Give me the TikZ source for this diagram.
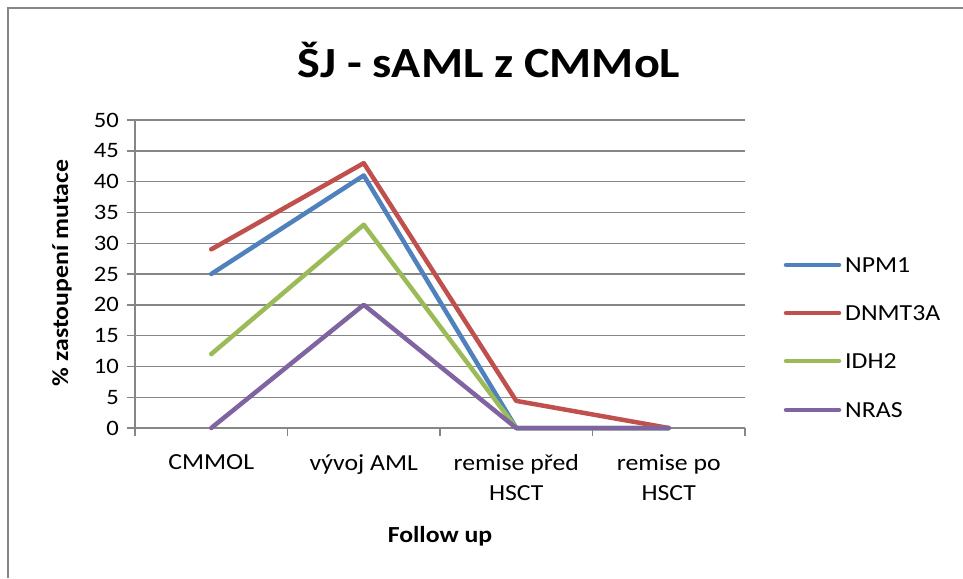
\documentclass[tikz,border=0pt]{standalone}
\usepackage{fontspec}
\setmainfont{Carlito}[FakeStretch=1.12]
\definecolor{cNPM}{HTML}{4F81BD}
\definecolor{cDNM}{HTML}{C0504D}
\definecolor{cIDH}{HTML}{9BBB59}
\definecolor{cNRAS}{HTML}{8064A2}
\definecolor{gridc}{HTML}{868686}
\begin{document}
\begin{tikzpicture}[x=1pt,y=-1pt,
  declare function={yy(\v)=428-6.16*\v;},
  gridline/.style={draw=gridc,line width=1.4pt},
  series/.style={line width=4.5pt,line cap=round,line join=round},
  ticklab/.style={inner sep=0pt,font=\fontsize{22}{26}\selectfont},
  catlab/.style={inner sep=0pt,align=center,font=\fontsize{23}{30}\selectfont},
  legtext/.style={inner sep=0pt,anchor=west,font=\fontsize{23}{28}\selectfont},
  axtitle/.style={inner sep=0pt,font=\fontsize{23}{28}\selectfont\bfseries},
]
\useasboundingbox (0,0) rectangle (963,578);
\fill[white] (0,0) rectangle (963,578);
% chart border (left and top visible)
\draw[draw=gridc,line width=1.5pt] (8,578) -- (8,8) -- (963,8);
% title
\node[inner sep=0pt,font=\fontsize{43}{50}\selectfont\bfseries] (title) at (489,60) {ŠJ - sAML z CMMoL};
% gridlines and y ticks
\foreach \v in {5,10,...,50}{
  \draw[gridline] (127,{yy(\v)}) -- (745,{yy(\v)});
}
\foreach \v in {0,5,...,50}{
  \draw[gridline] (127,{yy(\v)}) -- (135,{yy(\v)});
  \node[ticklab,anchor=east] (t\v) at (119,{yy(\v)}) {\v};
}
% axes
\draw[gridline] (135,120) -- (135,436);
\draw[gridline] (127,428) -- (745,428);
\foreach \x in {287.5,440,592.5,745}{
  \draw[gridline] (\x,428) -- (\x,436);
}
% category labels
\node[catlab,anchor=north] (c1) at (211.25,454) {CMMOL};
\node[catlab,anchor=north] (c2) at (363.75,454) {vývoj AML};
\node[catlab,anchor=north] (c3) at (516.25,454) {remise před\\HSCT};
\node[catlab,anchor=north] (c4) at (668.75,454) {remise po\\HSCT};
% axis titles
\node[axtitle] (xt) at (440,536) {Follow up};
\node[axtitle,rotate=90] (yt) at (62,273) {\% zastoupení mutace};
% series
\draw[series,cNPM] (211.25,{yy(25)}) -- (363.75,{yy(41)}) -- (516.25,{yy(0)}) -- (668.75,{yy(0)});
\draw[series,cDNM] (211.25,{yy(29)}) -- (363.75,{yy(43)}) -- (516.25,{yy(4.4)}) -- (668.75,{yy(0)});
\draw[series,cIDH] (211.25,{yy(12)}) -- (363.75,{yy(33)}) -- (516.25,{yy(0)}) -- (668.75,{yy(0)});
\draw[series,cNRAS] (211.25,{yy(0)}) -- (363.75,{yy(20)}) -- (516.25,{yy(0)}) -- (668.75,{yy(0)});
% legend
\draw[series,cNPM] (786,265) -- (839,265);
\node[legtext] (l1) at (845,265) {NPM1};
\draw[series,cDNM] (786,313) -- (839,313);
\node[legtext] (l2) at (845,313) {DNMT3A};
\draw[series,cIDH] (786,361) -- (839,361);
\node[legtext] (l3) at (845,361) {IDH2};
\draw[series,cNRAS] (786,410) -- (839,410);
\node[legtext] (l4) at (845,410) {NRAS};
\end{tikzpicture}
\end{document}
